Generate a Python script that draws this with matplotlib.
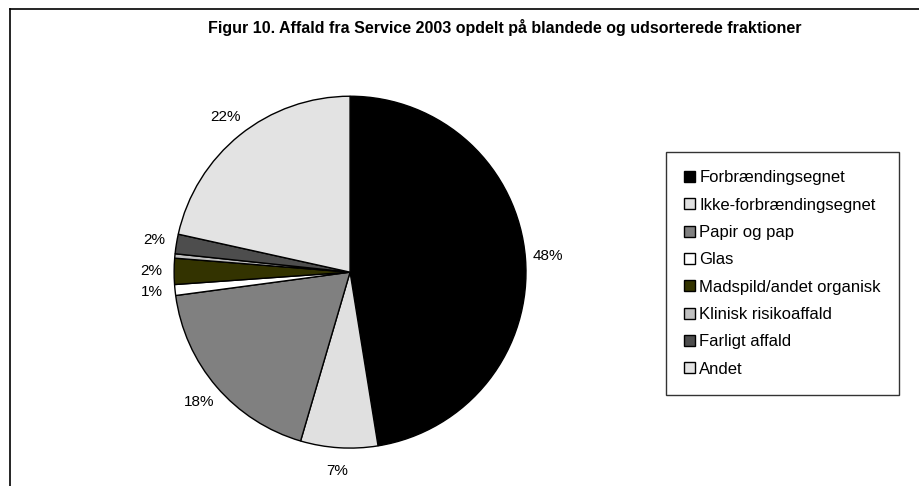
import matplotlib.pyplot as plt
from matplotlib.lines import Line2D

plt.rcParams['font.family'] = ['Liberation Sans', 'DejaVu Sans']

## data (percent of total)
categories = ['Forbrændingsegnet', 'Ikke-forbrændingsegnet', 'Papir og pap', 'Glas',
              'Madspild/andet organisk', 'Klinisk risikoaffald', 'Farligt affald', 'Andet']
shares = [47.6, 7.1, 18.4, 1.0, 2.4, 0.4, 1.8, 21.6]
pct_labels = ['48%', '7%', '18%', '1%', '2%', '', '2%', '22%']
colors = ['#000000', '#e0e0e0', '#808080', '#ffffff', '#333300', '#c0c0c0', '#4d4d4d', '#e3e3e3']

fig = plt.figure(figsize=(9.2, 4.86), dpi=100)

## frame (top and left lines only)
fig.add_artist(Line2D([10/920, 1], [1 - 9/486, 1 - 9/486], color='black', lw=1.2))
fig.add_artist(Line2D([10/920, 10/920], [0, 1 - 9/486], color='black', lw=1.2))

fig.text(505/920, 1 - 28/486, 'Figur 10. Affald fra Service 2003 opdelt på blandede og udsorterede fraktioner',
         ha='center', va='center', fontsize=11.5, fontweight='bold')

ax = fig.add_axes([0.189, 0.078, 0.383, 0.724])
wedges, texts = ax.pie(shares, labels=pct_labels, colors=colors, startangle=90, counterclock=False,
                       labeldistance=1.13, wedgeprops=dict(edgecolor='black', linewidth=1),
                       textprops=dict(fontsize=11))
for t in texts:
    t.set_ha('center')
    t.set_va('center')
ax.set_xlim(-1, 1)
ax.set_ylim(-1, 1)
ax.set_aspect('equal')

leg = fig.legend(wedges, categories, loc='upper left', bbox_to_anchor=(666/920, 1 - 152/486),
                 frameon=True, fancybox=False, edgecolor='black', fontsize=12,
                 handlelength=0.65, handleheight=0.65, handletextpad=0.25, labelspacing=0.74,
                 borderpad=1.1, borderaxespad=0)
leg.get_frame().set_linewidth(1)

fig.savefig('out.png', dpi=100)
